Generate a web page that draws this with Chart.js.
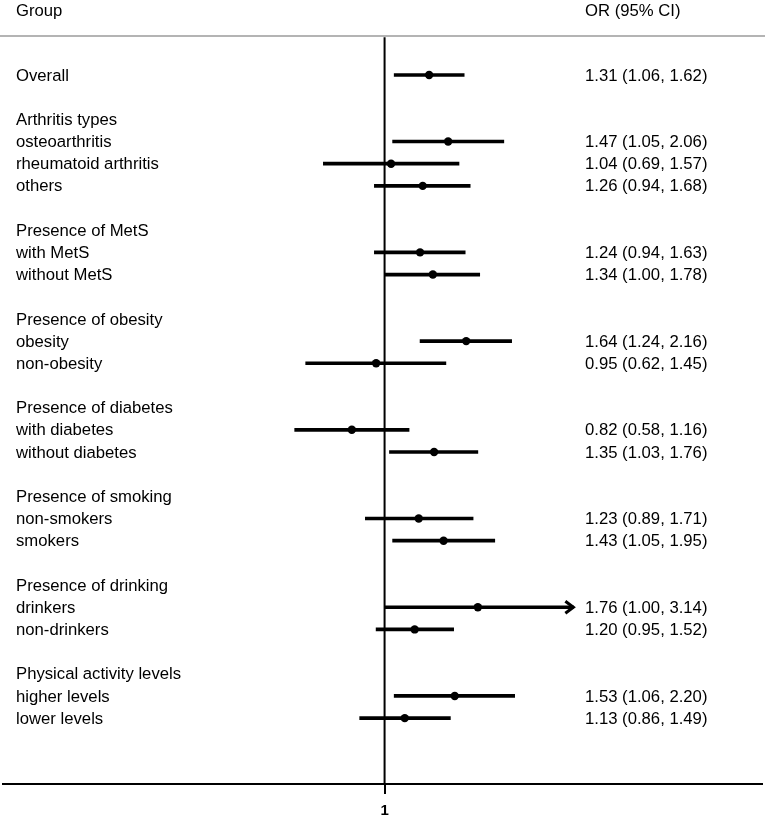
<!DOCTYPE html>
<html>
<head>
<meta charset="utf-8">
<script src="https://cdn.jsdelivr.net/npm/chart.js@4.4.1/dist/chart.umd.min.js"></script>
<style>
  body { margin: 0; background: #fff; }
</style>
</head>
<body>
<canvas id="forest" width="765" height="820"></canvas>
<script>
// rows top to bottom, '' = spacer row
const groupLabels = [
    'Overall', '',
    'Arthritis types', 'osteoarthritis', 'rheumatoid arthritis', 'others', '',
    'Presence of MetS', 'with MetS', 'without MetS', '',
    'Presence of obesity', 'obesity', 'non-obesity', '',
    'Presence of diabetes', 'with diabetes', 'without diabetes', '',
    'Presence of smoking', 'non-smokers', 'smokers', '',
    'Presence of drinking', 'drinkers', 'non-drinkers', '',
    'Physical activity levels', 'higher levels', 'lower levels'
];
const orValues = [1.31, null, null, 1.47, 1.04, 1.26, null, null, 1.24, 1.34, null, null, 1.64, 0.95, null,
    null, 0.82, 1.35, null, null, 1.23, 1.43, null, null, 1.76, 1.20, null, null, 1.53, 1.13];
const lowerCI = [1.06, null, null, 1.05, 0.69, 0.94, null, null, 0.94, 1.00, null, null, 1.24, 0.62, null,
    null, 0.58, 1.03, null, null, 0.89, 1.05, null, null, 1.00, 0.95, null, null, 1.06, 0.86];
const upperCI = [1.62, null, null, 2.06, 1.57, 1.68, null, null, 1.63, 1.78, null, null, 2.16, 1.45, null,
    null, 1.16, 1.76, null, null, 1.71, 1.95, null, null, 3.14, 1.52, null, null, 2.20, 1.49];
const xTicks = [1];
const headerLeft = 'Group';
const headerRight = 'OR (95% CI)';
const ciCap = 3.0; // upper limits past this get an arrow

const fontFamily = '"Liberation Sans", Arial, sans-serif';

const ciBars = [];
const orPoints = [];
orValues.forEach(function(v, i) {
    if (v === null) return;
    ciBars.push({ y: i, x: [lowerCI[i], upperCI[i]] });
    orPoints.push({ x: v, y: i });
});

function fmt(n) { return n.toFixed(2); }

const forestText = {
    id: 'forestText',
    afterDatasetsDraw(chart) {
        const ctx = chart.ctx;
        const x = chart.scales.x;
        const y = chart.scales.y;
        ctx.save();

        // header separator
        ctx.strokeStyle = '#b4b4b4';
        ctx.lineWidth = 2;
        ctx.beginPath();
        const sepY = y.getPixelForValue(-1.76);
        ctx.moveTo(0, sepY);
        ctx.lineTo(chart.width, sepY);
        ctx.stroke();

        ctx.font = '16.7px ' + fontFamily;
        ctx.fillStyle = '#000';
        ctx.textBaseline = 'middle';
        ctx.textAlign = 'left';
        const headY = y.getPixelForValue(-2.91) + 1;
        ctx.fillText(headerLeft, 16, headY);
        ctx.fillText(headerRight, 585, headY);

        groupLabels.forEach(function(label, i) {
            const py = y.getPixelForValue(i) + 1;
            if (label) ctx.fillText(label, 16, py);
            if (orValues[i] !== null) {
                ctx.fillText(fmt(orValues[i]) + ' (' + fmt(lowerCI[i]) + ', ' + fmt(upperCI[i]) + ')', 585, py);
            }
        });

        // arrow heads on truncated intervals
        ctx.strokeStyle = '#000';
        ctx.lineWidth = 3;
        ctx.lineJoin = 'miter';
        upperCI.forEach(function(hi, i) {
            if (hi === null || hi < ciCap) return;
            const px = x.getPixelForValue(hi);
            const py = y.getPixelForValue(i);
            ctx.beginPath();
            ctx.moveTo(px - 8, py - 6);
            ctx.lineTo(px, py);
            ctx.lineTo(px - 8, py + 6);
            ctx.stroke();
        });
        ctx.restore();
    }
};

new Chart(document.getElementById('forest'), {
    type: 'scatter',
    data: {
        datasets: [
            {
                type: 'scatter',
                data: orPoints,
                order: 0,
                pointStyle: 'circle',
                pointRadius: 4.2,
                pointBackgroundColor: '#000',
                pointBorderColor: '#000',
                pointBorderWidth: 0
            },
            {
                type: 'bar',
                indexAxis: 'y',
                data: ciBars,
                order: 1,
                backgroundColor: '#000',
                borderWidth: 0,
                barThickness: 3
            },
            {
                type: 'line',
                data: [{ x: 1, y: -1.70 }, { x: 1, y: 31.97 }],
                order: 2,
                borderColor: '#000',
                borderWidth: 2,
                pointRadius: 0
            }
        ]
    },
    options: {
        responsive: false,
        animation: false,
        devicePixelRatio: 1,
        layout: { autoPadding: false, padding: { left: 3, right: 3, top: 0, bottom: 0 } },
        plugins: {
            legend: { display: false },
            tooltip: { enabled: false }
        },
        scales: {
            x: {
                type: 'logarithmic',
                position: 'bottom',
                min: 0.099,
                max: 9.85,
                bounds: 'data',
                offset: false,
                beginAtZero: false,
                afterBuildTicks: function(scale) {
                    scale.ticks = xTicks.map(function(v) { return { value: v }; });
                },
                afterFit: function(scale) { scale.height = 36; },
                grid: {
                    display: true,
                    drawOnChartArea: false,
                    drawTicks: true,
                    tickLength: 10,
                    offset: false,
                    color: '#000',
                    lineWidth: 2
                },
                border: { display: true, color: '#000', width: 2 },
                ticks: {
                    padding: 8,
                    color: '#000',
                    maxRotation: 0,
                    autoSkip: false,
                    font: { family: fontFamily, size: 15, weight: 'bold' },
                    callback: function(v) { return String(v); }
                }
            },
            y: {
                type: 'linear',
                reverse: true,
                min: -3.38,
                max: 31.97,
                bounds: 'data',
                offset: false,
                display: false,
                grid: { offset: false },
                afterDataLimits: function(scale) {
                    scale.min = -3.38;
                    scale.max = 31.97;
                }
            }
        }
    },
    plugins: [forestText]
});
</script>
</body>
</html>
